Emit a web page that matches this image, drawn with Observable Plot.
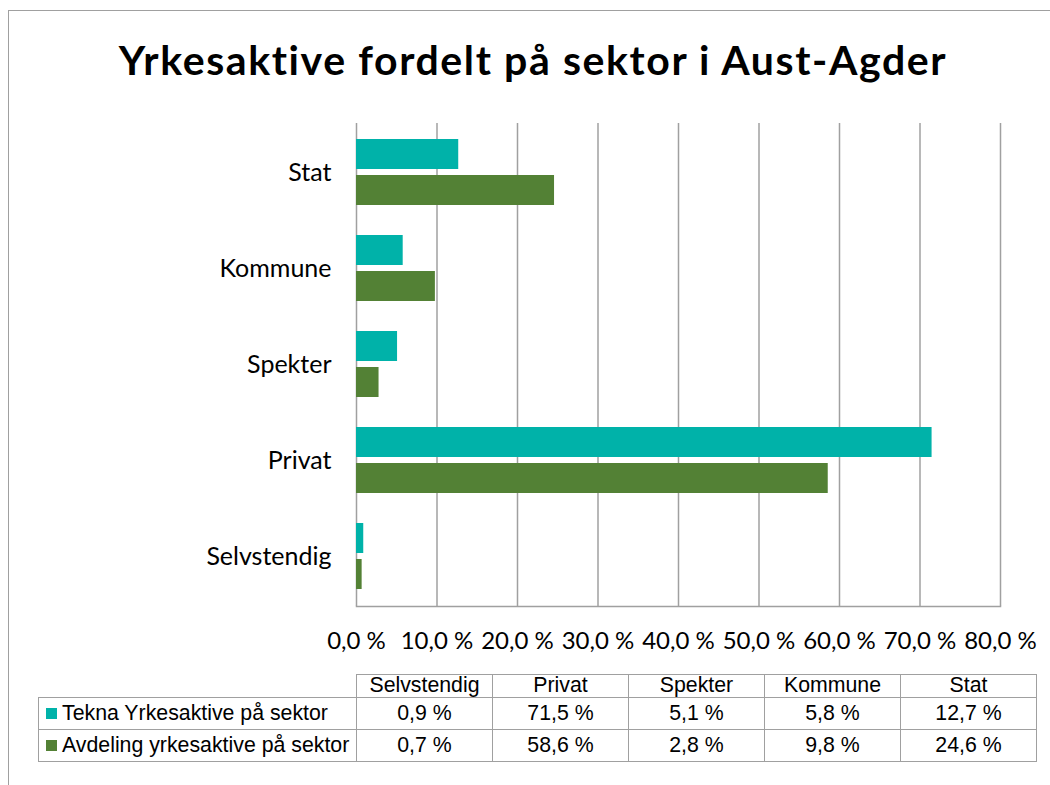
<!DOCTYPE html>
<html><head><meta charset="utf-8">
<script src="https://cdn.jsdelivr.net/npm/d3@7"></script>
<script src="https://cdn.jsdelivr.net/npm/@observablehq/plot@0.6"></script>
<style>
html,body{margin:0;padding:0;background:#fff;overflow:hidden;}
#wrap{position:relative;width:1050px;height:785px;overflow:hidden;background:#fff;}
#border{position:absolute;left:8px;top:10px;width:1200px;height:900px;border-left:1.5px solid #a0a0a0;border-top:1.5px solid #a0a0a0;}
#title{position:absolute;left:0;width:1066px;top:39px;text-align:center;font-family:Lato,sans-serif;font-weight:bold;font-size:41px;line-height:41px;letter-spacing:1.6px;color:#000;white-space:nowrap;}
#chart{position:absolute;left:0;top:0;}
#tbl{position:absolute;left:38px;top:674px;border-collapse:collapse;table-layout:fixed;font-family:"Liberation Sans",Arial,sans-serif;font-size:21.3px;color:#000;}
#tbl td{border:1.5px solid #a0a0a0;text-align:center;padding:0;white-space:nowrap;line-height:1;}
#tbl tr.head td{height:22px;}
#tbl tr.body td{height:31px;}
#tbl td.lab{text-align:left;padding-left:7px;}
#tbl td.blank{border:none;}
.sw{display:inline-block;width:11px;height:11px;margin-right:5px;vertical-align:1px;}
</style>
</head>
<body>
<div id="wrap">
  <div id="border"></div>
  <div id="chart"></div>
  <div id="title"></div>
  <table id="tbl"></table>
</div>
<script>
const titleText = "Yrkesaktive fordelt på sektor i Aust-Agder";
const sectors = ["Selvstendig", "Privat", "Spekter", "Kommune", "Stat"];
const teknaValues = [0.9, 71.5, 5.1, 5.8, 12.7];
const avdelingValues = [0.7, 58.6, 2.8, 9.8, 24.6];
const seriesNames = ["Tekna Yrkesaktive på sektor", "Avdeling yrkesaktive på sektor"];
const seriesColors = ["#00b2a9", "#538135"];
const xTicks = [0, 10, 20, 30, 40, 50, 60, 70, 80];

const fmt = d => d.toFixed(1).replace(".", ",") + " %";
const rows = sectors.map((s, i) => ({sector: s, tekna: teknaValues[i], avdeling: avdelingValues[i]}));

document.getElementById("title").textContent = titleText;

const chart = Plot.plot({
  width: 1050,
  height: 670,
  marginTop: 123,
  marginBottom: 64,
  marginLeft: 356,
  marginRight: 50,
  style: {fontFamily: "Lato, sans-serif", fontSize: "24px", color: "#000", background: "transparent"},
  x: {domain: [0, 80]},
  y: {domain: sectors.slice().reverse(), paddingInner: 0.312, paddingOuter: 0.156},
  marks: [
    Plot.gridX(xTicks, {stroke: "#a0a0a0", strokeOpacity: 1, strokeWidth: 1.5}),
    Plot.barX(rows, {y: "sector", x: "tekna", fill: seriesColors[0], insetBottom: 36}),
    Plot.barX(rows, {y: "sector", x: "avdeling", fill: seriesColors[1], insetTop: 36}),
    Plot.frame({anchor: "bottom", stroke: "#a0a0a0", strokeWidth: 1.5}),
    Plot.axisX(xTicks, {tickSize: 0, tickPadding: 25, tickFormat: fmt, fontSize: 24, fill: "#000", label: null}),
    Plot.axisY({tickSize: 0, tickPadding: 25, fontSize: 25, fill: "#000", label: null})
  ]
});
document.getElementById("chart").appendChild(chart);

// data table
const tbl = document.getElementById("tbl");
const colgroup = document.createElement("colgroup");
[318, ...sectors.map(() => 136)].forEach(w => {
  const c = document.createElement("col"); c.style.width = w + "px"; colgroup.appendChild(c);
});
tbl.appendChild(colgroup);
const head = document.createElement("tr"); head.className = "head";
const blank = document.createElement("td"); blank.className = "blank"; head.appendChild(blank);
sectors.forEach(s => { const td = document.createElement("td"); td.textContent = s; head.appendChild(td); });
tbl.appendChild(head);
[teknaValues, avdelingValues].forEach((vals, k) => {
  const tr = document.createElement("tr"); tr.className = "body";
  const lab = document.createElement("td"); lab.className = "lab";
  const sw = document.createElement("span"); sw.className = "sw"; sw.style.background = seriesColors[k];
  lab.appendChild(sw); lab.appendChild(document.createTextNode(seriesNames[k]));
  tr.appendChild(lab);
  vals.forEach(v => { const td = document.createElement("td"); td.textContent = fmt(v); tr.appendChild(td); });
  tbl.appendChild(tr);
});
</script>
</body></html>
